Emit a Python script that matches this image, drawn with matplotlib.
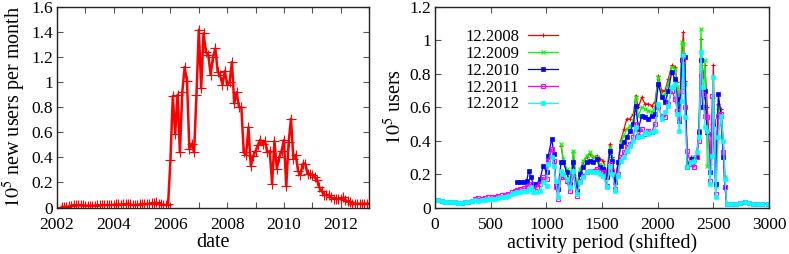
import numpy as np
import pandas as pd
import matplotlib
matplotlib.use('Agg')
import matplotlib.pyplot as plt
from matplotlib.ticker import FuncFormatter

plt.rcParams['font.family'] = ['Liberation Serif', 'DejaVu Serif']
plt.rcParams['mathtext.fontset'] = 'stix'

# ---- left panel: new users per month (units of 1e5) ----
months = pd.date_range('2002-03-01', '2013-01-01', freq='MS')
new_users = [
    # 2002 (Mar-Dec)
    0.005, 0.005, 0.005, 0.008, 0.015, 0.02, 0.018, 0.018, 0.02, 0.018,
    # 2003
    0.015, 0.015, 0.015, 0.015, 0.015, 0.018, 0.018, 0.02, 0.02, 0.02, 0.02, 0.02,
    # 2004
    0.022, 0.025, 0.025, 0.022, 0.025, 0.028, 0.03, 0.025, 0.02, 0.02, 0.022, 0.025,
    # 2005
    0.028, 0.025, 0.028, 0.03, 0.035, 0.035, 0.04, 0.03, 0.025, 0.022, 0.02, 0.025,
    # 2006
    0.38, 0.89, 0.59, 0.90, 0.44, 0.92, 1.12, 1.01, 0.47, 0.51, 0.44, 0.90,
    # 2007
    1.42, 0.95, 1.39, 1.24, 1.22, 1.06, 1.20, 1.27, 1.08, 1.06, 0.98, 1.09,
    # 2008
    0.98, 1.00, 1.16, 0.83, 0.92, 0.80, 0.80, 0.44, 0.42, 0.64, 0.33, 0.41,
    # 2009
    0.45, 0.50, 0.54, 0.51, 0.53, 0.44, 0.45, 0.19, 0.53, 0.31, 0.40, 0.45,
    # 2010
    0.54, 0.17, 0.52, 0.71, 0.39, 0.42, 0.29, 0.26, 0.35, 0.35, 0.27, 0.27,
    # 2011
    0.26, 0.24, 0.22, 0.16, 0.13, 0.10, 0.10, 0.10, 0.08, 0.07, 0.07, 0.07,
    # 2012
    0.07, 0.08, 0.06, 0.05, 0.04, 0.03, 0.03, 0.03, 0.03, 0.03, 0.03, 0.03,
    # 2013 Jan
    0.03,
]
years = months.year + (months.month - 1) / 12.0

# ---- right panel: users vs shifted activity period (units of 1e5) ----
period = [0, 30, 60, 90, 120, 150, 180, 210, 240, 270, 300, 330, 360, 390, 420,
          450, 480, 510, 540, 570, 600, 630, 660, 690, 720,
          735, 765, 795, 825, 840, 862, 883, 913, 943, 973, 1003, 1018, 1048,
          1069, 1087, 1105, 1132, 1153, 1183, 1213, 1243, 1273, 1303, 1333,
          1362, 1392, 1422, 1452, 1482, 1512, 1542, 1572, 1593, 1617, 1647,
          1668, 1698, 1722, 1752, 1782, 1803, 1827, 1857, 1886, 1916, 1946,
          1976, 2006, 2036, 2066, 2096, 2126, 2156, 2177, 2195, 2216, 2231,
          2245, 2266, 2296, 2326, 2350, 2371, 2389, 2404, 2425, 2446, 2470,
          2491, 2500, 2521, 2545, 2569, 2590, 2605, 2620, 2660, 2700, 2740,
          2780, 2820, 2860, 2900, 2940, 2990]

N = None
pre = [N] * 25
pre_b = [N] * 16
u2008 = pre + pre_b + [
    0.37, 0.28, 0.22, 0.15, 0.33, 0.11, 0.22, 0.27, 0.30, 0.32, 0.30, 0.31, 0.29, 0.28,
    0.20, 0.38, 0.30, 0.16, 0.28, 0.40, 0.47, 0.53, 0.53, 0.56, 0.67, 0.60, 0.66, 0.62,
    0.62, 0.61, 0.63, 0.79, 0.70, 0.70, 0.77, 0.85, 0.84, 0.75, 0.55, 0.90, 1.05, 0.76,
    0.25, 0.30, 0.30, 0.31, 0.47, 1.01, 0.78, 0.85, 0.60, 0.30, 0.50, 0.85, 0.15, 0.62,
    0.59, 0.40, 0.18, 0.02, 0.02, 0.02, 0.025, 0.03, 0.025, 0.022, 0.02, 0.02, 0.02]
u2009 = pre + pre_b + [
    0.38, 0.29, 0.23, 0.16, 0.34, 0.12, 0.23, 0.28, 0.31, 0.33, 0.30, 0.30, 0.26, 0.25,
    0.19, 0.36, 0.29, 0.15, 0.27, 0.39, 0.43, 0.47, 0.49, 0.52, 0.66, 0.55, 0.60, 0.59,
    0.58, 0.57, 0.60, 0.78, 0.67, 0.68, 0.74, 0.84, 0.83, 0.72, 0.54, 0.99, 0.98, 0.74,
    0.24, 0.29, 0.30, 0.30, 0.46, 1.07, 0.60, 0.88, 0.25, 0.25, 0.48, 0.65, 0.13, 0.60,
    0.50, 0.30, 0.18, 0.02, 0.02, 0.02, 0.025, 0.03, 0.025, 0.022, 0.02, 0.02, 0.02]
u2010 = pre + [
    0.15, 0.155, 0.155, 0.16, 0.22, 0.18, 0.14, 0.14, 0.17, 0.25, 0.21, 0.31, 0.41, 0.32,
    0.13, 0.11,
    0.27, 0.27, 0.21, 0.14, 0.27, 0.10, 0.20, 0.24, 0.27, 0.28, 0.27, 0.29, 0.24, 0.23,
    0.18, 0.34, 0.28, 0.15, 0.27, 0.37, 0.39, 0.42, 0.46, 0.50, 0.61, 0.47, 0.55, 0.54,
    0.53, 0.55, 0.56, 0.74, 0.66, 0.63, 0.70, 0.81, 0.77, 0.65, 0.52, 0.88, 0.91, 0.90,
    0.24, 0.29, 0.29, 0.30, 0.45, 0.88, 0.60, 0.70, 0.45, 0.21, 0.44, 0.50, 0.14, 0.68,
    0.55, 0.30, 0.12, 0.02, 0.02, 0.02, 0.025, 0.03, 0.025, 0.022, 0.02, 0.02, 0.02]
u2011 = [
    0.045, 0.042, 0.038, 0.035, 0.033, 0.033, 0.030, 0.028, 0.028, 0.03, 0.032, 0.04,
    0.052, 0.055, 0.052, 0.055, 0.06, 0.062, 0.065, 0.068, 0.072, 0.075, 0.08, 0.09, 0.10,
    0.105, 0.11, 0.115, 0.12, 0.13, 0.14, 0.11, 0.12, 0.14, 0.18, 0.17, 0.28, 0.35, 0.28,
    0.12, 0.05,
    0.18, 0.18, 0.16, 0.10, 0.20, 0.07, 0.16, 0.19, 0.21, 0.22, 0.22, 0.23, 0.21, 0.21,
    0.13, 0.26, 0.22, 0.11, 0.20, 0.30, 0.33, 0.36, 0.38, 0.42, 0.50, 0.43, 0.47, 0.44,
    0.46, 0.45, 0.50, 0.60, 0.55, 0.54, 0.62, 0.70, 0.65, 0.58, 0.53, 0.70, 0.88, 0.60,
    0.34, 0.26, 0.24, 0.30, 0.40, 0.79, 0.68, 0.55, 0.54, 0.16, 0.67, 0.52, 0.08, 0.55,
    0.56, 0.33, 0.12, 0.02, 0.02, 0.02, 0.025, 0.03, 0.025, 0.022, 0.02, 0.02, 0.02]
u2012 = [
    0.045, 0.042, 0.038, 0.035, 0.033, 0.033, 0.030, 0.028, 0.028, 0.03, 0.032, 0.038,
    0.045, 0.04, 0.042, 0.045, 0.05, 0.05, 0.052, 0.055, 0.06, 0.062, 0.07, 0.08, 0.085,
    0.09, 0.095, 0.10, 0.10, 0.11, 0.12, 0.09, 0.09, 0.10, 0.15, 0.13, 0.26, 0.30, 0.25,
    0.16, 0.06,
    0.22, 0.20, 0.17, 0.12, 0.22, 0.08, 0.15, 0.18, 0.21, 0.22, 0.21, 0.21, 0.20, 0.19,
    0.12, 0.25, 0.20, 0.10, 0.19, 0.28, 0.30, 0.34, 0.37, 0.40, 0.48, 0.42, 0.43, 0.45,
    0.44, 0.45, 0.46, 0.62, 0.53, 0.57, 0.61, 0.72, 0.74, 0.56, 0.46, 0.64, 0.91, 0.54,
    0.24, 0.27, 0.28, 0.33, 0.42, 0.93, 0.72, 0.48, 0.46, 0.14, 0.31, 0.78, 0.06, 0.42,
    0.55, 0.40, 0.17, 0.02, 0.02, 0.02, 0.025, 0.03, 0.025, 0.022, 0.02, 0.02, 0.02]

labels = ['12.2008', '12.2009', '12.2010', '12.2011', '12.2012']
series = [u2008, u2009, u2010, u2011, u2012]
colors = ['#ff0000', '#00ff00', '#0000ff', '#ff00ff', '#00ffff']
markers = ['+', 'x', 's', 's', 's']

fig = plt.figure(figsize=(7.89, 2.54), dpi=100)
bot, top = 207.5, 7
ax1 = fig.add_axes([57 / 789, 1 - bot / 254, (369 - 57) / 789, (bot - top) / 254])
ax2 = fig.add_axes([435 / 789, 1 - bot / 254, (769 - 435) / 789, (bot - top) / 254])

ax1.plot(years, new_users, color='#ff0000', lw=1.8, marker='+', ms=6.5, mew=0.8)
ax1.set_xlim(2002, 2013)
ax1.set_ylim(0, 1.6)
ax1.set_xticks(range(2002, 2014))
ax1.set_xticklabels([str(y) if y % 2 == 0 else '' for y in range(2002, 2014)])
ax1.set_yticks(np.arange(0, 1.61, 0.2))
ax1.set_xlabel('date', fontsize=14.5, labelpad=0)
ax1.set_ylabel(r'$10^5$ new users per month', fontsize=14.5, labelpad=2)

for s, lab, c, m in zip(series, labels, colors, markers):
    y = np.array([np.nan if v is None else v for v in s], dtype=float)
    if lab == '12.2011':
        ax2.plot(period, y, color=c, lw=0.9, marker=m, ms=3.5, mew=0.8,
                 mfc='none', label=lab)
    elif m == 's':
        ax2.plot(period, y, color=c, lw=0.9, marker=m, ms=3, mew=0.5, label=lab)
    else:
        ax2.plot(period, y, color=c, lw=0.9, marker=m, ms=3.5, mew=0.8, label=lab)
ax2.set_xlim(0, 3000)
ax2.set_ylim(0, 1.2)
ax2.set_xticks(range(0, 3001, 500))
ax2.set_yticks(np.arange(0, 1.21, 0.2))
ax2.set_xlabel('activity period (shifted)', fontsize=14.5, labelpad=0)
ax2.set_ylabel(r'$10^5$ users', fontsize=14.5, labelpad=2)
ax2.legend(loc='upper left', bbox_to_anchor=(0.09, 0.89), frameon=False,
           markerfirst=False, fontsize=12, labelspacing=0.05, handlelength=1.8,
           handletextpad=0.55, borderpad=0, borderaxespad=0)

for ax in (ax1, ax2):
    ax.yaxis.set_major_formatter(FuncFormatter(lambda v, p: '%g' % round(v, 2)))
    ax.tick_params(direction='in', top=True, right=True, length=4, width=0.8,
                   labelsize=12.5, color='#555555', pad=3)
    ax.tick_params(axis='x', pad=7)
    for sp in ax.spines.values():
        sp.set_linewidth(1)
        sp.set_color('#222222')

fig.savefig('out.png', dpi=100)
